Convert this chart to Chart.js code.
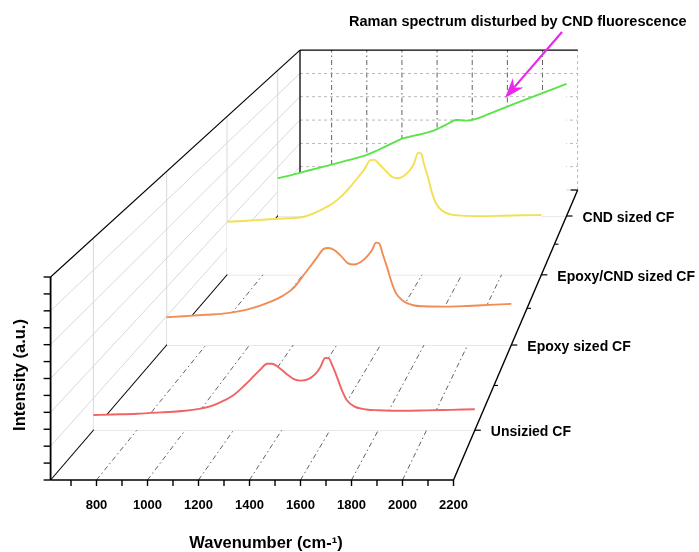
<!DOCTYPE html>
<html>
<head>
<meta charset="utf-8">
<script src="https://cdn.jsdelivr.net/npm/chart.js@4.4.0/dist/chart.umd.min.js"></script>
<style>
html, body { margin: 0; padding: 0; background: #fff; }
</style>
</head>
<body>
<canvas id="waterfall" width="699" height="552"></canvas>
<script>
// Raman spectra (intensity in % of the box height)
const wavenumbers = [620, 700, 800, 900, 1000, 1100, 1150, 1200, 1250, 1280, 1310, 1340, 1360, 1390, 1420, 1450, 1480,
    1510, 1540, 1560, 1580, 1595, 1610, 1630, 1650, 1670, 1700, 1750, 1800, 1900, 2000, 2100, 2200];
const unsizedCF = [7.9, 8.2, 8.6, 9.3, 10.1, 12.3, 14.8, 18.2, 23.8, 27.6, 31.4, 34.6, 34.6, 32.4, 29.3, 26.6, 25.8,
    26.6, 29.3, 32.8, 37.6, 37.4, 33.6, 27.4, 20.6, 15.6, 12.4, 10.8, 10.4, 10.1, 10.3, 10.6, 10.9];
const epoxyCF = [16.0, 16.6, 17.4, 18.4, 20.8, 25.2, 28.2, 32.6, 40.6, 45.5, 50.6, 55.4, 55.9, 54.6, 51.2, 47.2, 46.4,
    47.8, 51.2, 54.4, 59.0, 58.4, 52.6, 45.0, 36.6, 30.2, 25.8, 22.9, 22.3, 22.1, 22.5, 23.1, 23.7];
const epoxyCndCF = [33.5, 34.0, 34.8, 35.6, 36.5, 41.5, 45.0, 50.2, 57.2, 61.8, 66.6, 72.4, 72.6, 69.2, 65.4, 61.8, 61.0,
    62.6, 66.2, 70.4, 77.0, 76.6, 70.0, 61.6, 52.0, 45.2, 40.6, 38.0, 37.4, 37.1, 37.3, 37.6, 37.8];
const cndCF = [26.0, 28.3, 31.6, 34.8, 38.2, 41.6, 44.2, 47.2, 50.2, 52.0, 53.5, 54.4, 55.0, 55.8, 56.8, 57.8, 59.0,
    60.8, 62.6, 64.0, 65.4, 66.0, 66.0, 65.7, 65.5, 65.6, 66.5, 68.8, 71.4, 76.4, 81.2, 86.0, 90.8];

const seriesNames = ['Unsizied CF', 'Epoxy sized CF', 'Epoxy/CND sized CF', 'CND sized CF'];
const seriesDepth = [0.125, 0.375, 0.625, 0.875];
const seriesColors = ['#ef6464', '#f28c55', '#f3e052', '#58e546'];
const waveTicks = [800, 1000, 1200, 1400, 1600, 1800, 2000, 2200];

const wMin = 620, wMax = 2200, zMax = 100;

// perspective box: front face in pixels + vanishing point
const frontX = w => 96.5 + (w - 800) * 0.255;
const frontY = z => 480 - z * 2.03;
const VP = [853, -453];
const depthK = 0.451;

function project(w, t, z) {
    const s = 1 / (1 + depthK * t);
    return { x: VP[0] + s * (frontX(w) - VP[0]), y: VP[1] + s * (frontY(z) - VP[1]) };
}

function toPx(chart, p) {
    return [chart.scales.x.getPixelForValue(p.x), chart.scales.y.getPixelForValue(p.y)];
}

function line(chart, a, b, color, width, dash) {
    const ctx = chart.ctx;
    const [x1, y1] = toPx(chart, a), [x2, y2] = toPx(chart, b);
    ctx.save();
    ctx.strokeStyle = color;
    ctx.lineWidth = width;
    ctx.setLineDash(dash || []);
    ctx.beginPath();
    ctx.moveTo(x1, y1);
    ctx.lineTo(x2, y2);
    ctx.stroke();
    ctx.restore();
}

const allSeries = [unsizedCF, epoxyCF, epoxyCndCF, cndCF];

const datasets = allSeries.map((vals, i) => ({
    label: seriesNames[i],
    data: wavenumbers.map((w, j) => project(w, seriesDepth[i], vals[j])),
    borderColor: seriesColors[i],
    borderWidth: 1.9,
    pointRadius: 0,
    cubicInterpolationMode: 'monotone',
    backgroundColor: '#ffffff',
    fill: { value: project(wMin, seriesDepth[i], 0).y }
}));

const gridPlugin = {
    id: 'box3d',
    beforeDatasetsDraw(chart) {
        const majorZ = [1, 2, 3, 4, 5].map(i => i * zMax / 6);
        const gridW = [800, 1000, 1200, 1400, 1600, 1800, 2000];
        const lightGray = '#cfcfcf';

        // left wall
        majorZ.forEach(z => line(chart, project(wMin, 0, z), project(wMin, 1, z), lightGray, 0.8));
        seriesDepth.forEach(t => line(chart, project(wMin, t, 0), project(wMin, t, zMax), lightGray, 0.8));
        // floor
        seriesDepth.concat([1]).forEach(t => line(chart, project(wMin, t, 0), project(wMax, t, 0), lightGray, 0.9));
        gridW.forEach(w => line(chart, project(w, 0, 0), project(w, 1, 0), '#505050', 0.9, [5, 3, 1.5, 3]));
        // back wall
        gridW.forEach(w => line(chart, project(w, 1, 0), project(w, 1, zMax), '#505050', 0.9, [5, 3, 1.5, 3]));
        majorZ.forEach(z => line(chart, project(wMin, 1, z), project(wMax, 1, z), '#a8a8a8', 0.8, [3, 3]));
        line(chart, project(wMax, 1, 0), project(wMax, 1, zMax), '#a8a8a8', 0.8, [3, 3]);
        // black box edges
        line(chart, project(wMin, 0, 0), project(wMin, 1, 0), '#000', 1.1);
        line(chart, project(wMin, 0, zMax), project(wMin, 1, zMax), '#000', 1.1);
        line(chart, project(wMin, 1, 0), project(wMin, 1, zMax), '#000', 1.3);
        line(chart, project(wMin, 1, zMax), project(wMax, 1, zMax), '#000', 1.3);
    },
    afterDraw(chart) {
        const ctx = chart.ctx;
        // front wavenumber axis
        line(chart, project(wMin, 0, 0), project(wMax, 0, 0), '#000', 1.6);
        for (let w = 700; w <= wMax; w += 100) {
            const p = project(w, 0, 0);
            line(chart, p, { x: p.x, y: p.y + 6 }, '#000', 1.4);
        }
        // intensity axis
        line(chart, project(wMin, 0, 0), project(wMin, 0, zMax), '#000', 1.8);
        for (let i = 0; i <= 12; i++) {
            const p = project(wMin, 0, i * zMax / 12);
            line(chart, p, { x: p.x - 7, y: p.y }, '#000', 1.4);
        }
        // depth axis
        line(chart, project(wMax, 0, 0), project(wMax, 1, 0), '#000', 1.4);
        [0.25, 0.5, 0.75].forEach(t => {
            const p = project(wMax, t, 0);
            line(chart, p, { x: p.x + 4, y: p.y }, '#000', 1.1);
        });
        seriesDepth.forEach(t => {
            const p = project(wMax, t, 0);
            line(chart, p, { x: p.x + 6, y: p.y }, '#000', 1.2);
        });
        const back = project(wMax, 1, 0);
        line(chart, back, { x: back.x - 7, y: back.y }, '#000', 1.2);

        ctx.save();
        ctx.fillStyle = '#000';
        ctx.textAlign = 'center';
        ctx.textBaseline = 'middle';
        ctx.font = 'bold 13px "Liberation Sans", Arial, sans-serif';
        waveTicks.forEach(w => {
            const [x] = toPx(chart, project(w, 0, 0));
            ctx.fillText(String(w), x, 505);
        });

        ctx.font = 'bold 16.5px "Liberation Sans", Arial, sans-serif';
        ctx.fillText('Wavenumber (cm-\u00B9)', 266, 543);

        ctx.save();
        ctx.translate(20, 375);
        ctx.rotate(-Math.PI / 2);
        ctx.fillText('Intensity (a.u.)', 0, 0);
        ctx.restore();

        ctx.textAlign = 'left';
        ctx.font = 'bold 14px "Liberation Sans", Arial, sans-serif';
        seriesDepth.forEach((t, i) => {
            const [x, y] = toPx(chart, project(wMax, t, 0));
            ctx.fillText(seriesNames[i], x + 16, y + 2);
        });

        ctx.font = 'bold 14.5px "Liberation Sans", Arial, sans-serif';
        ctx.fillText('Raman spectrum disturbed by CND fluorescence', 349, 22);

        // magenta arrow pointing at the fluorescence background
        const tail = [562, 32], tip = [505, 98];
        const ang = Math.atan2(tip[1] - tail[1], tip[0] - tail[0]);
        ctx.strokeStyle = '#e829e8';
        ctx.fillStyle = '#e829e8';
        ctx.lineWidth = 2.2;
        ctx.beginPath();
        ctx.moveTo(tail[0], tail[1]);
        ctx.lineTo(tip[0] - 14 * Math.cos(ang), tip[1] - 14 * Math.sin(ang));
        ctx.stroke();
        ctx.beginPath();
        ctx.moveTo(tip[0], tip[1]);
        ctx.lineTo(tip[0] - 20 * Math.cos(ang) + 7 * Math.sin(ang), tip[1] - 20 * Math.sin(ang) - 7 * Math.cos(ang));
        ctx.lineTo(tip[0] - 14 * Math.cos(ang), tip[1] - 14 * Math.sin(ang));
        ctx.lineTo(tip[0] - 20 * Math.cos(ang) - 7 * Math.sin(ang), tip[1] - 20 * Math.sin(ang) + 7 * Math.cos(ang));
        ctx.closePath();
        ctx.fill();
        ctx.restore();
    }
};

new Chart(document.getElementById('waterfall'), {
    type: 'line',
    data: { datasets: datasets },
    options: {
        responsive: false,
        animation: false,
        devicePixelRatio: 1,
        layout: { padding: 0 },
        scales: {
            x: { type: 'linear', min: 0, max: 699, display: false },
            y: { type: 'linear', min: 0, max: 552, reverse: true, display: false }
        },
        plugins: {
            legend: { display: false },
            tooltip: { enabled: false },
            filler: { propagate: false }
        }
    },
    plugins: [gridPlugin]
});
</script>
</body>
</html>
